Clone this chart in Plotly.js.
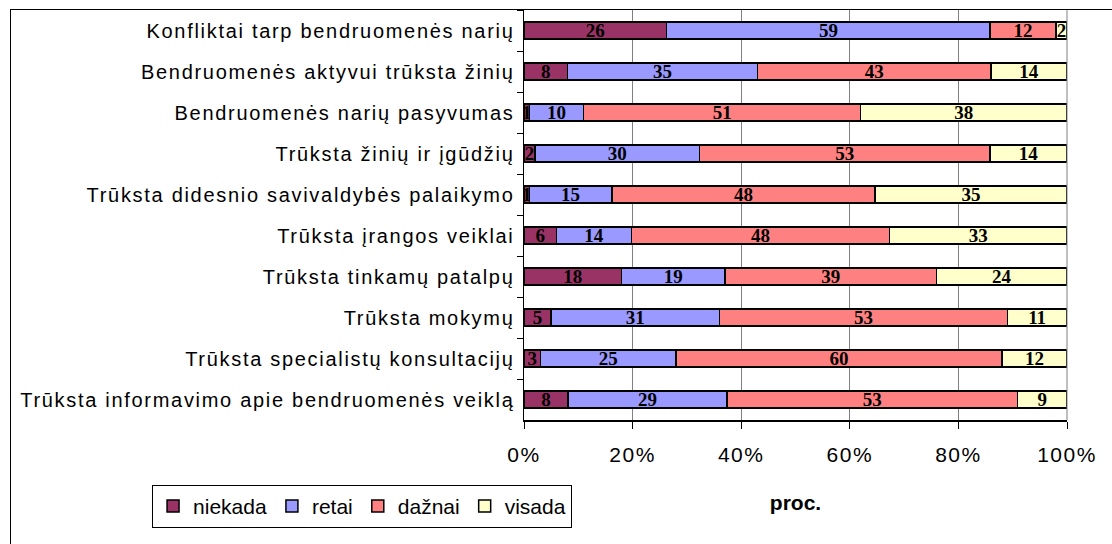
<!DOCTYPE html>
<html>
<head>
<meta charset="utf-8">
<script src="https://cdn.plot.ly/plotly-3.0.1.min.js"></script>
<style>
html,body{margin:0;padding:0;background:#fff;}
#wrap{position:relative;width:1112px;height:544px;overflow:hidden;}
#chart{position:absolute;left:0;top:0;width:1112px;height:544px;}
#frame{position:absolute;left:10px;top:9px;width:1200px;height:600px;border-left:1px solid #000;border-top:1px solid #000;pointer-events:none;}
#chart .ytick text{letter-spacing:1.7px;}
#chart .xtick text{letter-spacing:1.5px;}
</style>
</head>
<body>
<div id="wrap"><div id="chart"></div><div id="frame"></div></div>
<script>
const categories = [
  "Konfliktai tarp bendruomenės narių",
  "Bendruomenės aktyvui trūksta žinių",
  "Bendruomenės narių pasyvumas",
  "Trūksta žinių ir įgūdžių",
  "Trūksta didesnio savivaldybės palaikymo",
  "Trūksta įrangos veiklai",
  "Trūksta tinkamų patalpų",
  "Trūksta mokymų",
  "Trūksta specialistų konsultacijų",
  "Trūksta informavimo apie bendruomenės veiklą"
];
const niekada = [26, 8, 1, 2, 1, 6, 18, 5, 3, 8];
const retai   = [59, 35, 10, 30, 15, 14, 19, 31, 25, 29];
const daznai  = [12, 43, 51, 53, 48, 48, 39, 53, 60, 53];
const visada  = [2, 14, 38, 14, 35, 33, 24, 11, 12, 9];
const seriesNames = ["niekada", "retai", "dažnai", "visada"];
const xTickVals = [0, 20, 40, 60, 80, 100];
const xTickText = ["0%", "20%", "40%", "60%", "80%", "100%"];
const xTitle = "proc.";

const colors = ["#993366", "#9999FF", "#FF8080", "#FFFFCC"];
const allSeries = [niekada, retai, daznai, visada];
const sans = "Liberation Sans, Arial, sans-serif";

const traces = allSeries.map((vals, i) => ({
  type: "bar",
  orientation: "h",
  name: seriesNames[i],
  y: categories,
  x: vals,
  text: vals.map(String),
  textposition: "inside",
  insidetextanchor: "middle",
  constraintext: "none",
  textangle: 0,
  textfont: {family: "Liberation Serif, Times New Roman, serif", size: 19, color: "#000", weight: "bold"},
  marker: {color: colors[i], line: {color: "#000", width: 1.5}},
  hoverinfo: "skip"
}));

const layout = {
  width: 1112,
  height: 544,
  margin: {l: 524, r: 45, t: 10, b: 124},
  paper_bgcolor: "#fff",
  plot_bgcolor: "#fff",
  barmode: "stack",
  barnorm: "percent",
  bargap: 0.59,
  showlegend: true,
  font: {family: sans, color: "#000"},
  xaxis: {
    range: [0, 100.0001],
    tickvals: xTickVals,
    ticktext: xTickText,
    showgrid: true,
    gridcolor: "#808080",
    gridwidth: 1,
    zeroline: false,
    showline: true,
    linecolor: "#000",
    linewidth: 1.5,
    ticks: "outside",
    ticklen: 7,
    tickcolor: "#000",
    ticklabelstandoff: 8,
    tickfont: {size: 21, family: sans},
    title: {text: xTitle, font: {size: 21, weight: "bold", family: sans}, standoff: 30},
    fixedrange: true
  },
  yaxis: {
    type: "category",
    autorange: "reversed",
    showgrid: false,
    showline: true,
    linecolor: "#000",
    linewidth: 1.5,
    ticks: "outside",
    tickson: "boundaries",
    ticklen: 6,
    tickcolor: "#000",
    ticklabelstandoff: 4,
    tickfont: {size: 20, family: sans},
    fixedrange: true
  },
  legend: {
    orientation: "h",
    x: -0.685,
    y: -0.158,
    xanchor: "left",
    yanchor: "top",
    bordercolor: "#000",
    borderwidth: 1,
    font: {size: 21, family: sans},
    itemwidth: 30,
    tracegroupgap: 0,
    traceorder: "normal"
  },
  shapes: [
    {type: "line", xref: "paper", yref: "paper", x0: 1, x1: 1, y0: 0, y1: 1, line: {color: "#808080", width: 1}}
  ]
};

Plotly.newPlot("chart", traces, layout, {staticPlot: true, displayModeBar: false});
</script>
</body>
</html>
